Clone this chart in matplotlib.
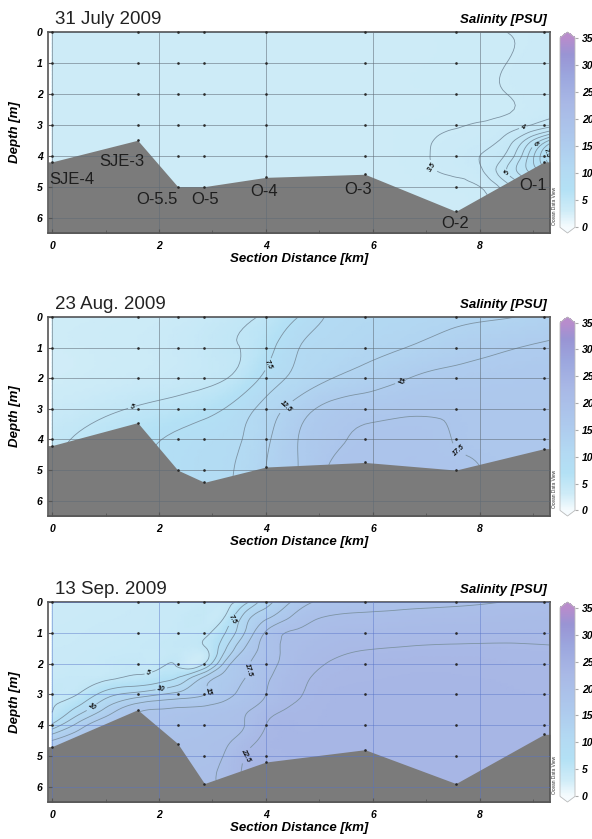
#!/usr/bin/env python3

import numpy as np
import matplotlib
matplotlib.use("Agg")
import matplotlib.pyplot as plt
import matplotlib.tri as mtri
from matplotlib.colors import LinearSegmentedColormap, Normalize
from matplotlib.cm import ScalarMappable
from matplotlib.ticker import MultipleLocator

plt.rcParams['font.family'] = ['Liberation Sans', 'DejaVu Sans']

# stations along the section (km) and their names
station_km = [0.0, 1.6, 2.35, 2.85, 4.0, 5.85, 7.55, 9.2]
station_names = ['SJE-4', 'SJE-3', 'O-5.5', 'O-5', 'O-4', 'O-3', 'O-2', 'O-1']

# bottom depth (m) under each station for the three surveys
bottom_jul = [4.2, 3.5, 5.0, 5.0, 4.7, 4.6, 5.8, 4.2]
bottom_aug = [4.2, 3.45, 5.0, 5.4, 4.9, 4.75, 5.0, 4.3]
bottom_sep = [4.7, 3.5, 4.6, 5.9, 5.2, 4.8, 5.9, 4.3]

dates = ['31 July 2009', '23 Aug. 2009', '13 Sep. 2009']
cbar_ticks = [0, 5, 10, 15, 20, 25, 30, 35]

jul_km = [0, 0.8, 1.6, 2.35, 2.85, 4.0, 5.0, 5.85, 6.7, 7.2, 7.55, 8.0, 8.5, 8.9, 9.3]
jul_depth = [0, 1, 2, 3, 3.5, 4, 4.5, 5, 6, 6.5]
jul_sal = [
    [3.2, 3.2, 3.2, 3.2, 3.2, 3.2, 3.2, 3.2, 3.25, 3.3, 3.35, 3.4, 3.5, 3.55, 3.6],
    [3.2, 3.2, 3.2, 3.2, 3.2, 3.2, 3.2, 3.2, 3.25, 3.3, 3.35, 3.4, 3.5, 3.6, 3.6],
    [3.2, 3.2, 3.2, 3.2, 3.2, 3.2, 3.2, 3.2, 3.25, 3.3, 3.35, 3.4, 3.5, 3.6, 3.7],
    [3.2, 3.2, 3.2, 3.2, 3.2, 3.2, 3.2, 3.2, 3.3, 3.4, 3.45, 3.55, 3.7, 3.95, 4.3],
    [3.2, 3.2, 3.2, 3.2, 3.2, 3.2, 3.2, 3.2, 3.35, 3.52, 3.6, 3.75, 4.2, 5.2, 6.5],
    [3.2, 3.2, 3.2, 3.2, 3.2, 3.2, 3.2, 3.2, 3.35, 3.55, 3.7, 4.0, 4.6, 6.0, 7.8],
    [3.2, 3.2, 3.2, 3.2, 3.2, 3.2, 3.2, 3.2, 3.3, 3.5, 3.6, 3.9, 5.0, 6.0, 7.0],
    [3.2, 3.2, 3.2, 3.2, 3.2, 3.2, 3.2, 3.2, 3.2, 3.3, 3.35, 3.5, 4.3, 5.2, 6.0],
    [3.2, 3.2, 3.2, 3.2, 3.2, 3.2, 3.2, 3.2, 3.2, 3.2, 3.3, 3.4, 4.0, 4.8, 5.5],
    [3.2, 3.2, 3.2, 3.2, 3.2, 3.2, 3.2, 3.2, 3.2, 3.2, 3.3, 3.4, 4.0, 4.8, 5.5],
]
jul_levels = [3.5, 4, 4.5, 5, 5.5, 6, 6.5, 7, 7.5]

aug_km = [0, 0.8, 1.6, 2.35, 2.85, 3.4, 4.0, 4.6, 5.2, 5.85, 6.7, 7.55, 8.4, 9.3]
aug_depth = [0, 1, 2, 3, 4, 5, 6, 6.5]
aug_sal = [
    [3.0, 3.1, 3.3, 3.6, 4.0, 4.5, 5.3, 7.5, 10.3, 10.8, 11.4, 11.9, 12.3, 13.3],
    [3.0, 3.2, 3.5, 3.9, 4.4, 4.9, 6.5, 9.9, 11.0, 11.8, 12.6, 13.8, 14.7, 15.4],
    [3.0, 3.3, 3.7, 4.1, 4.5, 5.3, 8.2, 10.8, 12.4, 13.5, 15.05, 15.8, 16.2, 16.4],
    [3.8, 4.4, 5.2, 5.9, 6.6, 8.2, 11.0, 13.7, 15.8, 16.6, 17.1, 17.1, 16.9, 16.9],
    [4.6, 5.6, 6.8, 8.0, 8.8, 9.6, 12.0, 15.0, 16.9, 17.9, 18.2, 17.4, 17.0, 16.9],
    [5.0, 6.0, 7.2, 8.4, 9.2, 10.0, 12.5, 15.0, 17.7, 18.3, 18.4, 18.0, 17.2, 17.0],
    [5.0, 6.0, 7.2, 8.4, 9.2, 10.0, 12.5, 15.0, 17.7, 18.3, 18.4, 18.0, 17.2, 17.0],
    [5.0, 6.0, 7.2, 8.4, 9.2, 10.0, 12.5, 15.0, 17.7, 18.3, 18.4, 18.0, 17.2, 17.0],
]
aug_levels = [5, 7.5, 10, 12.5, 15, 17.5]

sep_km = [0, 0.5, 1.0, 1.6, 2.0, 2.35, 2.85, 3.2, 3.6, 4.0, 4.6, 5.2, 5.85, 6.7, 7.55, 8.4, 9.3]
sep_depth = [0, 0.5, 1, 1.5, 2, 2.5, 3, 3.5, 4, 4.5, 5, 5.5, 6, 6.5]
sep_sal = [
    [3.5, 3.6, 3.7, 3.8, 3.9, 4.0, 4.2, 4.5, 6.5, 11.5, 16.0, 18.2, 18.8, 19.2, 19.5, 20.0, 20.5],
    [3.6, 3.7, 3.8, 3.9, 4.0, 4.1, 4.3, 4.8, 11.0, 14.5, 18.5, 20.2, 20.5, 20.8, 21.0, 21.2, 21.4],
    [3.7, 3.8, 3.9, 4.0, 4.1, 4.3, 4.6, 7.0, 12.5, 17.8, 20.3, 21.3, 21.6, 21.8, 21.9, 22.0, 22.0],
    [3.8, 3.9, 4.0, 4.2, 4.3, 4.5, 4.8, 9.0, 15.0, 18.6, 21.0, 22.0, 22.4, 22.6, 22.7, 22.7, 22.6],
    [3.9, 4.0, 4.2, 4.4, 4.5, 4.7, 5.0, 12.5, 17.0, 19.0, 21.4, 22.6, 23.0, 23.1, 23.1, 23.0, 22.9],
    [4.1, 4.3, 4.7, 5.6, 6.5, 7.9, 13.5, 15.8, 17.5, 19.6, 22.0, 23.0, 23.2, 23.3, 23.3, 23.2, 23.1],
    [4.6, 5.1, 8.7, 11.0, 12.3, 13.3, 14.9, 16.5, 18.2, 20.0, 22.3, 23.2, 23.4, 23.4, 23.4, 23.3, 23.2],
    [4.9, 8.5, 13.0, 17.0, 17.6, 17.9, 18.3, 18.8, 19.6, 21.3, 22.9, 23.3, 23.4, 23.4, 23.4, 23.4, 23.3],
    [8.0, 13.5, 17.0, 18.0, 18.3, 18.6, 19.0, 19.4, 20.0, 22.5, 23.2, 23.4, 23.4, 23.4, 23.4, 23.4, 23.3],
    [15.0, 17.0, 18.0, 18.4, 18.7, 19.0, 19.4, 19.6, 21.2, 23.0, 23.4, 23.4, 23.4, 23.4, 23.4, 23.4, 23.3],
    [16.0, 17.5, 18.2, 18.6, 18.9, 19.2, 19.5, 20.0, 22.5, 23.2, 23.4, 23.4, 23.4, 23.4, 23.4, 23.4, 23.3],
    [16.0, 17.5, 18.2, 18.6, 18.9, 19.2, 19.6, 20.5, 22.8, 23.3, 23.4, 23.4, 23.4, 23.4, 23.4, 23.4, 23.3],
    [16.0, 17.5, 18.2, 18.6, 18.9, 19.2, 19.6, 20.5, 22.8, 23.3, 23.4, 23.4, 23.4, 23.4, 23.4, 23.4, 23.3],
    [16.0, 17.5, 18.2, 18.6, 18.9, 19.2, 19.6, 20.5, 22.8, 23.3, 23.4, 23.4, 23.4, 23.4, 23.4, 23.4, 23.3],
]
sep_levels = [5, 7.5, 10, 12.5, 15, 17.5, 20, 22.5]

# ---------------------------------------------------------------- layout
W, H = 592, 839
fig = plt.figure(figsize=(W / 100, H / 100), dpi=100)
fig.patch.set_facecolor('white')

def px_box(left, top, right, bottom):
    return [left / W, 1 - bottom / H, (right - left) / W, (bottom - top) / H]

XMIN, XMAX = -0.075, 9.31
ax_left, ax_right = 48, 550
ax_tops = [32, 317, 602]
ax_bottoms = [233, 516, 802]

# ODV-like salinity palette (white -> cyan -> periwinkle -> purple)
cmap = LinearSegmentedColormap.from_list('odv_sal', [
    (0 / 35, (0.96, 0.985, 0.995)),
    (3 / 35, (0.81, 0.925, 0.97)),
    (7 / 35, (0.70, 0.88, 0.96)),
    (11 / 35, (0.70, 0.85, 0.95)),
    (16 / 35, (0.68, 0.79, 0.93)),
    (23 / 35, (0.66, 0.72, 0.90)),
    (28 / 35, (0.61, 0.65, 0.87)),
    (32 / 35, (0.60, 0.58, 0.83)),
    (35 / 35, (0.72, 0.55, 0.80)),
])
norm = Normalize(0, 35)

def grid_tri(xs, ds):
    X, D = np.meshgrid(xs, ds)
    nx = len(xs)
    tris = []
    for j in range(len(ds) - 1):
        for i in range(nx - 1):
            a = j * nx + i
            tris.append([a, a + 1, a + nx])
            tris.append([a + 1, a + nx + 1, a + nx])
    return mtri.Triangulation(X.ravel(), D.ravel(), tris)

label_spots = [
    [(7.2, 4.25), (8.8, 3.08), (8.49, 4.58), (9.0, 3.6), (9.22, 3.9)],
    [(1.5, 3.0), (4.17, 1.66), (4.36, 2.9), (6.57, 2.35), (7.69, 4.17)],
    [(1.8, 2.3), (3.36, 0.58), (0.77, 3.5), (2.05, 2.9), (2.98, 2.95), (3.67, 2.2), (3.64, 5.0)],
]
grid_colors = ['#5f6b76', '#5f6b76', '#5572c8']
grid_alpha = [0.55, 0.55, 0.45]

panels = [
    (jul_km, jul_depth, jul_sal, jul_levels, bottom_jul),
    (aug_km, aug_depth, aug_sal, aug_levels, bottom_aug),
    (sep_km, sep_depth, sep_sal, sep_levels, bottom_sep),
]

bold_it = dict(fontweight='bold', fontstyle='italic')

for k, (xs, ds, sal, levels, bottom) in enumerate(panels):
    top, bot = ax_tops[k], ax_bottoms[k]
    ax = fig.add_axes(px_box(ax_left, top, ax_right, bot))

    # smooth salinity field through matplotlib's cubic triangulation refiner
    tri = grid_tri(xs, ds)
    tri_f, sal_f = mtri.UniformTriRefiner(tri).refine_field(np.array(sal, float).ravel(), subdiv=3)
    ax.tripcolor(tri_f, sal_f, cmap=cmap, norm=norm, shading='gouraud', zorder=1)
    cs = ax.tricontour(tri_f, sal_f, levels=levels, colors='#7d93a3', linewidths=0.6, zorder=1.5)
    labels = ax.clabel(cs, fmt='%g', fontsize=5, colors='#111111', manual=label_spots[k],
                       inline=True, inline_spacing=2)
    for t in labels:
        t.set_fontweight('bold')
        t.set_fontstyle('italic')

    # sea floor
    bx = [XMIN] + station_km + [XMAX]
    bd = [bottom[0]] + bottom + [bottom[-1]]
    ax.fill_between(bx, bd, 7, color='#7b7b7b', lw=0, zorder=2)

    # sample points
    for sx, sb in zip(station_km, bottom):
        dd = [d for d in range(0, 7) if d < sb - 0.08] + [sb]
        ax.plot([sx] * len(dd), dd, ls='none', marker='o', ms=1.9, mew=0, color='#2a2a2a',
                zorder=5, clip_on=False)

    ax.set_xlim(XMIN, XMAX)
    ax.set_ylim(6.5, 0)
    ax.set_axisbelow(False)
    ax.xaxis.set_major_locator(MultipleLocator(2))
    ax.xaxis.set_minor_locator(MultipleLocator(1))
    ax.yaxis.set_major_locator(MultipleLocator(1))
    ax.grid(True, which='major', color=grid_colors[k], lw=0.7, alpha=grid_alpha[k])
    ax.tick_params(which='major', direction='in', length=3, color='#555555', labelsize=7.5)
    ax.tick_params(which='minor', direction='in', length=2, color='#555555')
    ax.tick_params(axis='x', pad=6)
    ax.tick_params(axis='y', pad=4)
    for t in ax.get_xticklabels() + ax.get_yticklabels():
        t.set_fontweight('bold')
        t.set_fontstyle('italic')
    for s in ax.spines.values():
        s.set_color('#555555')
        s.set_linewidth(1.2)

    # titles and axis labels
    fig.text(55 / W, 1 - (top - 8) / H, dates[k], fontsize=13.5, va='baseline', ha='left',
             color='#222222')
    fig.text(547 / W, 1 - (top - 9) / H, 'Salinity [PSU]', fontsize=9.5, va='baseline',
             ha='right', **bold_it)
    fig.text(15 / W, 1 - (top + bot) / 2 / H, 'Depth [m]', fontsize=9.5, rotation=90,
             va='center', ha='center', **bold_it)
    fig.text(299 / W, 1 - (bot + 29) / H, 'Section Distance [km]', fontsize=9.5,
             va='baseline', ha='center', **bold_it)
    fig.text(555 / W, 1 - (bot - 27) / H, 'Ocean Data View', fontsize=3.5, rotation=90,
             va='center', ha='center', color='#333333')

    # colour bar
    cax = fig.add_axes(px_box(560, top, 575, bot))
    cb = fig.colorbar(ScalarMappable(norm=norm, cmap=cmap), cax=cax, extend='both',
                      extendfrac=0.03, ticks=cbar_ticks)
    cb.outline.set_edgecolor('#bbbbbb')
    cb.outline.set_linewidth(0.6)
    cax.tick_params(length=2, color='#aaaaaa', labelsize=7.5, pad=3)
    for t in cax.get_yticklabels():
        t.set_fontweight('bold')
        t.set_fontstyle('italic')

    # station names on the first section
    if k == 0:
        name_xy = [(0.37, 4.77), (1.31, 4.19), (1.97, 5.42), (2.86, 5.42),
                   (3.96, 5.15), (5.73, 5.08), (7.54, 6.2), (9.0, 4.97)]
        for name, (nx, ny) in zip(station_names, name_xy):
            ax.text(nx, ny, name, fontsize=12, ha='center', va='center',
                    color='#1e1e1e', zorder=6)

fig.savefig('out.png', dpi=100)
